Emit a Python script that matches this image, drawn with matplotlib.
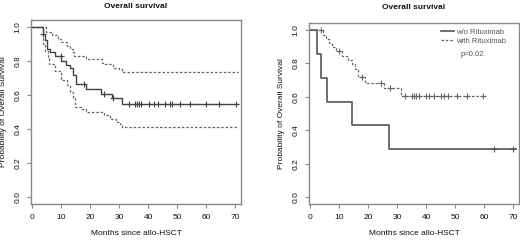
import matplotlib
matplotlib.use("Agg")
import matplotlib.pyplot as plt
import numpy as np

plt.rcParams['font.family'] = ['Liberation Sans', 'DejaVu Sans']

# left panel: overall KM estimate with 95% CI
os_t = [0, 3.8, 4.5, 5.2, 6.1, 8, 10.1, 11.8, 13, 14.1, 15.2, 18.7, 23.8, 27.5, 31]
os_s = [1.0, 0.96, 0.92, 0.87, 0.855, 0.83, 0.80, 0.777, 0.757, 0.718, 0.664, 0.636, 0.605, 0.58, 0.547]
os_cens = [4.0, 10.0, 18.0, 25.0, 28.0, 33.3, 35.5, 36.2, 36.9, 37.6, 40.4, 42.2, 43.4,
           45.7, 47.5, 48.4, 51.0, 54.4, 60.1, 64.5, 70.4]
os_end = 70.8

hi_t = [0, 4.9, 7, 9, 10, 12, 13, 14, 14.5, 18.5, 24, 25, 28, 30, 31]
hi_s = [1.0, 0.97, 0.95, 0.93, 0.91, 0.89, 0.87, 0.85, 0.83, 0.81, 0.79, 0.78, 0.76, 0.75, 0.732]

lo_t = [0, 3.8, 4.5, 5.5, 6, 8, 10, 12, 13, 14, 15, 17, 18.5, 25, 27, 29, 30.5, 31]
lo_s = [1.0, 0.90, 0.86, 0.82, 0.78, 0.74, 0.69, 0.66, 0.62, 0.58, 0.527, 0.52, 0.50, 0.48,
        0.46, 0.44, 0.43, 0.41]

# right panel: by rituximab
wo_t = [0, 2.5, 3.9, 6.0, 14.6, 27.1]
wo_s = [1.0, 0.857, 0.714, 0.571, 0.429, 0.286]
wo_cens = [63.5, 69.8]
wo_end = 71

wi_t = [0, 4.5, 5.5, 6.5, 7.5, 9, 11, 13, 14.5, 15.5, 16.5, 19, 25.5, 31.5]
wi_s = [1.0, 0.97, 0.945, 0.92, 0.895, 0.87, 0.845, 0.82, 0.795, 0.765, 0.72, 0.683, 0.65, 0.605]
wi_cens = [3.9, 10.0, 18.0, 24.4, 27.6, 32.8, 35.0, 36.0, 36.6, 37.5, 40.0, 41.1, 42.6,
           45.2, 46.3, 47.7, 50.6, 54.1, 59.7]
wi_end = 60

yticks = [0.0, 0.2, 0.4, 0.6, 0.8, 1.0]
xticks = [0, 10, 20, 30, 40, 50, 60, 70]

FS = 6
TXT = '#111111'
FRAME = '#8a8a8a'


def km(ax, t, s, end, cens=None, **kw):
    tt = list(t) + [end]
    ss = list(s) + [s[-1]]
    ax.step(tt, ss, where='post', **kw)
    if cens:
        idx = np.searchsorted(t, cens, side='right') - 1
        lv = np.array(s)[idx]
        ax.plot(cens, lv, linestyle='none', marker='+', markersize=4.5,
                markeredgewidth=0.8, color=kw.get('color', 'k'))


def style(ax, tpad):
    ax.set_xlim(-0.3, 72)
    ax.set_ylim(-0.04, 1.04)
    ax.set_xticks(xticks)
    ax.set_yticks(yticks)
    ax.set_yticklabels([f'{v:.1f}' for v in yticks], rotation=90, va='center')
    ax.tick_params(labelsize=FS, colors=FRAME, labelcolor=TXT, length=3, width=0.8, pad=4)
    for sp in ax.spines.values():
        sp.set_color(FRAME)
        sp.set_linewidth(1.0)
    ax.set_title('Overall survival', fontsize=FS, fontweight='bold', color=TXT, pad=tpad)
    ax.set_xlabel('Months since allo-HSCT', fontsize=FS, color=TXT, labelpad=7)
    ax.set_ylabel('Probability of Overall Survival', fontsize=FS, color=TXT, labelpad=5)


fig = plt.figure(figsize=(5.2, 2.4), dpi=100)
ax1 = fig.add_axes([31 / 520, 36 / 240, 210 / 520, 184 / 240])
ax2 = fig.add_axes([309 / 520, 36 / 240, 210 / 520, 181 / 240])

km(ax1, hi_t, hi_s, os_end, color='#666666', lw=0.9, linestyle=(0, (2, 1.5)))
km(ax1, lo_t, lo_s, os_end, color='#666666', lw=0.9, linestyle=(0, (2, 1.5)))
km(ax1, os_t, os_s, os_end, os_cens, color='#444444', lw=1.0)
style(ax1, 8.5)

km(ax2, wo_t, wo_s, wo_end, wo_cens, color='#555555', lw=1.2, label='w/o Rituximab')
km(ax2, wi_t, wi_s, wi_end, wi_cens, color='#666666', lw=0.9, linestyle=(0, (2, 1.5)),
   label='with Rituximab')
style(ax2, 10)
leg = ax2.legend(loc='upper left', frameon=False, fontsize=FS - 0.5, handlelength=1.6,
                 handletextpad=0.3, borderaxespad=0.0, borderpad=0.0, labelspacing=0.25,
                 bbox_to_anchor=(0.63, 0.97))
for txt in leg.get_texts():
    txt.set_color('#555555')
ax2.text(0.723, 0.815, 'p=0.02', transform=ax2.transAxes, fontsize=FS - 0.5, color='#555555')

fig.savefig('out.png', dpi=100)
